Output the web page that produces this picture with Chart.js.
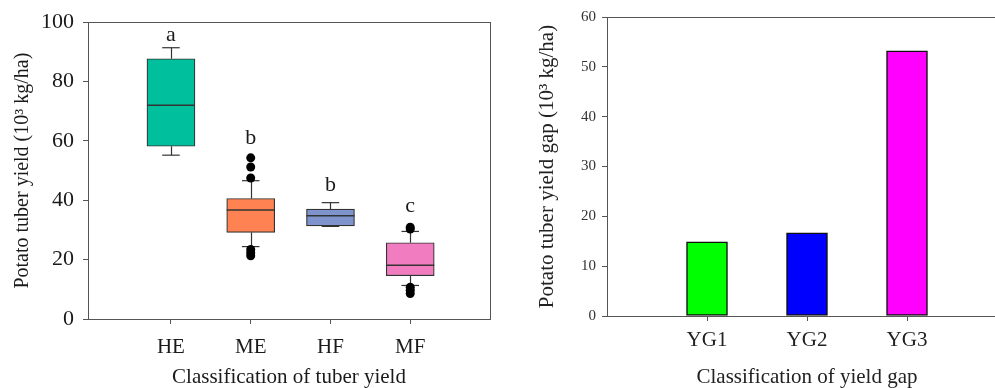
<!DOCTYPE html>
<html>
<head>
<meta charset="utf-8">
<script src="https://cdn.jsdelivr.net/npm/chart.js@4.4.1/dist/chart.umd.min.js"></script>
<style>
  html, body { margin:0; padding:0; background:#fff; width:995px; height:388px; overflow:hidden; }
  #wrapL { position:absolute; left:0; top:0; width:500px; height:388px; }
  #wrapR { position:absolute; left:500px; top:0; width:520px; height:388px; }
</style>
</head>
<body>
<div id="wrapL"><canvas id="left" width="500" height="388"></canvas></div>
<div id="wrapR"><canvas id="right" width="520" height="388"></canvas></div>
<script>
// ---------- Data: left panel (box plot) ----------
const boxCats   = ['HE', 'ME', 'HF', 'MF'];
const boxMin    = [55.2, 24.4, 31.2, 11.3];
const boxQ1     = [58.2, 29.2, 31.4, 14.6];
const boxMedian = [72.0, 36.7, 34.8, 18.1];
const boxQ3     = [87.7, 40.6, 37.0, 25.7];
const boxMax    = [91.4, 46.6, 39.2, 29.5];
const outliers  = [[], [54.3, 51.2, 47.5, 23.4, 22.3, 21.3], [], [30.9, 30.3, 10.7, 9.7, 8.6]];
const sigLetters = ['a', 'b', 'b', 'c'];
const letterY    = [93.6, 59.1, 43.0, 36.2];
const leftYTicks = [0, 20, 40, 60, 80, 100];

// ---------- Data: right panel (bar chart) ----------
const gapCats   = ['YG1', 'YG2', 'YG3'];
const gapValues = [14.9, 16.7, 53.2];
const rightYTicks = [0, 10, 20, 30, 40, 50, 60];

// ---------- Styles ----------
const boxColors = ['#00BF9C', '#FF8352', '#7F94CC', '#F27CC0'];
const barColors = ['#00FF00', '#0000FF', '#FF00FF'];
const SERIF = "'Liberation Serif', 'Times New Roman', serif";
const AXIS = '#555';
const TEXT = '#1a1a1a';

Chart.defaults.devicePixelRatio = 1;
Chart.defaults.animation = false;
Chart.defaults.font.family = SERIF;

const framePlugin = {
  id: 'frame',
  afterDraw(chart) {
    const a = chart.chartArea, ctx = chart.ctx;
    ctx.save();
    ctx.strokeStyle = AXIS; ctx.lineWidth = 1;
    ctx.strokeRect(Math.round(a.left) + 0.5, Math.round(a.top) + 0.5,
                   Math.round(a.right - a.left), Math.round(a.bottom - a.top));
    ctx.restore();
  }
};

const CAP = 0.11;
const boxExtras = {
  id: 'boxExtras',
  beforeDatasetsDraw(chart) {
    const { ctx, scales: { x, y } } = chart;
    ctx.save();
    ctx.strokeStyle = '#333'; ctx.lineWidth = 1.2;
    boxCats.forEach((c, i) => {
      const v = i + 1;
      const cx = Math.round(x.getPixelForValue(v)) + 0.5;
      const l = x.getPixelForValue(v - CAP), r = x.getPixelForValue(v + CAP);
      const seg = (x1, y1, x2, y2) => { ctx.beginPath(); ctx.moveTo(x1, y1); ctx.lineTo(x2, y2); ctx.stroke(); };
      seg(cx, y.getPixelForValue(boxQ3[i]), cx, y.getPixelForValue(boxMax[i]));
      seg(l, y.getPixelForValue(boxMax[i]), r, y.getPixelForValue(boxMax[i]));
      seg(cx, y.getPixelForValue(boxQ1[i]), cx, y.getPixelForValue(boxMin[i]));
      seg(l, y.getPixelForValue(boxMin[i]), r, y.getPixelForValue(boxMin[i]));
    });
    ctx.restore();
  },
  afterDatasetsDraw(chart) {
    const { ctx, scales: { x, y } } = chart;
    const meta = chart.getDatasetMeta(1);
    ctx.save();
    ctx.strokeStyle = '#333'; ctx.lineWidth = 1.5;
    meta.data.forEach((bar, i) => {
      const yy = y.getPixelForValue(boxMedian[i]);
      ctx.beginPath();
      ctx.moveTo(bar.x - bar.width / 2, yy);
      ctx.lineTo(bar.x + bar.width / 2, yy);
      ctx.stroke();
    });
    ctx.fillStyle = TEXT;
    ctx.font = '22px ' + SERIF;
    ctx.textAlign = 'center';
    ctx.textBaseline = 'alphabetic';
    sigLetters.forEach((t, i) => {
      ctx.fillText(t, x.getPixelForValue(i + 1), y.getPixelForValue(letterY[i]));
    });
    ctx.restore();
  }
};

// outlier points as {x,y}
const outlierPts = [];
outliers.forEach((arr, i) => arr.forEach(v => outlierPts.push({ x: i + 1, y: v })));

new Chart(document.getElementById('left'), {
  type: 'bar',
  data: {
    datasets: [
      {
        type: 'scatter',
        data: outlierPts,
        pointRadius: 4.5,
        pointBackgroundColor: '#000',
        pointBorderColor: '#000',
        pointBorderWidth: 0
      },
      {
        type: 'bar',
        data: boxCats.map((c, i) => ({ x: i + 1, y: [boxQ1[i], boxQ3[i]] })),
        backgroundColor: boxColors,
        borderColor: '#333',
        borderWidth: 1.2,
        borderSkipped: false,
        barThickness: 48
      }
    ]
  },
  options: {
    responsive: false,
    layout: { padding: { top: 21, right: 10, left: 0, bottom: 0 } },
    plugins: { legend: { display: false }, tooltip: { enabled: false } },
    scales: {
      x: {
        type: 'linear', min: -0.04, max: 5, offset: false,
        afterBuildTicks: s => { s.ticks = boxCats.map((c, i) => ({ value: i + 1 })); },
        afterFit: s => { s.height = 69; },
        grid: { offset: false, drawOnChartArea: false, drawTicks: true, tickLength: 5, tickColor: AXIS },
        border: { display: true, color: AXIS, width: 1 },
        ticks: {
          color: TEXT, font: { size: 21, family: SERIF }, padding: 11,
          maxRotation: 0, autoSkip: false,
          callback: v => boxCats[Math.round(v) - 1] || ''
        },
        title: {
          display: true, text: 'Classification of tuber yield', color: TEXT,
          font: { size: 21, family: SERIF, lineHeight: 1.0 }, padding: { top: 0, bottom: 0 }
        }
      },
      y: {
        type: 'linear', min: 0, max: 100,
        afterBuildTicks: s => { s.ticks = leftYTicks.map(v => ({ value: v })); },
        afterFit: s => { s.width = 88; },
        grid: { drawOnChartArea: false, drawTicks: true, tickLength: 5, tickColor: AXIS },
        border: { display: true, color: AXIS, width: 1 },
        ticks: { color: TEXT, font: { size: 22, family: SERIF }, padding: 9 },
        title: {
          display: true, text: 'Potato tuber yield (10³ kg/ha)', color: TEXT,
          font: { size: 20, family: SERIF, lineHeight: 1.0 }, padding: { top: 13, bottom: 0 }
        }
      }
    }
  },
  plugins: [boxExtras, framePlugin]
});

new Chart(document.getElementById('right'), {
  type: 'bar',
  data: {
    datasets: [{
      data: gapCats.map((c, i) => ({ x: i + 1, y: gapValues[i] })),
      backgroundColor: barColors,
      borderColor: '#111',
      borderWidth: 1.5,
      borderSkipped: false,
      barThickness: 41
    }]
  },
  options: {
    responsive: false,
    layout: { padding: { top: 17, right: 13, left: 0, bottom: 0 } },
    plugins: { legend: { display: false }, tooltip: { enabled: false } },
    scales: {
      x: {
        type: 'linear', min: 0, max: 4, offset: false,
        afterBuildTicks: s => { s.ticks = gapCats.map((c, i) => ({ value: i + 1 })); },
        afterFit: s => { s.height = 72; },
        grid: { offset: false, drawOnChartArea: false, drawTicks: true, tickLength: 5, tickColor: AXIS },
        border: { display: true, color: AXIS, width: 1 },
        ticks: {
          color: '#222', font: { size: 21, family: SERIF }, padding: 7,
          maxRotation: 0, autoSkip: false,
          callback: v => gapCats[Math.round(v) - 1] || ''
        },
        title: {
          display: true, text: 'Classification of yield gap', color: '#222',
          font: { size: 21, family: SERIF, lineHeight: 1.0 }, padding: { top: 0, bottom: 0 }
        }
      },
      y: {
        type: 'linear', min: 0, max: 60,
        afterBuildTicks: s => { s.ticks = rightYTicks.map(v => ({ value: v })); },
        afterFit: s => { s.width = 107; },
        grid: { drawOnChartArea: false, drawTicks: true, tickLength: 5, tickColor: AXIS },
        border: { display: true, color: AXIS, width: 1 },
        ticks: { color: '#333', font: { size: 15, family: SERIF }, padding: 6 },
        title: {
          display: true, text: 'Potato tuber yield gap (10³ kg/ha)', color: '#222',
          font: { size: 21, family: SERIF, lineHeight: 1.0 }, padding: { top: 37, bottom: 0 }
        }
      }
    }
  },
  plugins: [framePlugin]
});
</script>
</body>
</html>
